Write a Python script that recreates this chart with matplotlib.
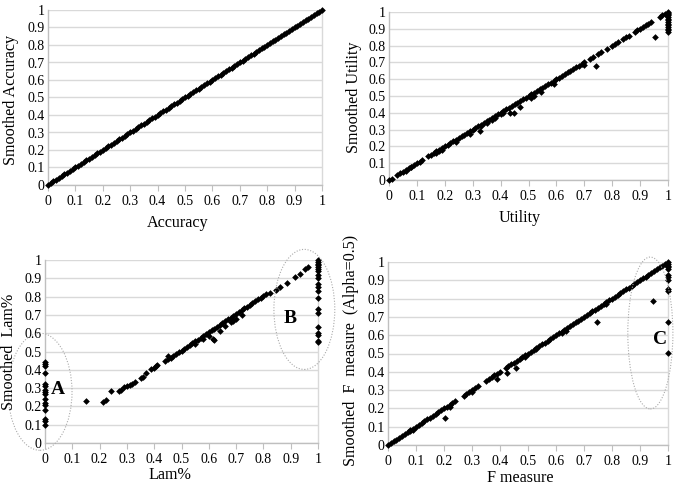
import matplotlib
matplotlib.use("Agg")
import matplotlib.pyplot as plt
from matplotlib.patches import Ellipse

plt.rcParams['font.family'] = ['Liberation Serif', 'DejaVu Serif']

# ---------------- Panel 1: Accuracy ----------------
acc_x = [0.00, 0.01, 0.02, 0.03, 0.04, 0.05, 0.06, 0.07, 0.08, 0.09,
         0.10, 0.11, 0.12, 0.13, 0.14, 0.15, 0.16, 0.17, 0.18, 0.19,
         0.20, 0.21, 0.22, 0.23, 0.24, 0.25, 0.26, 0.27, 0.28, 0.29,
         0.30, 0.31, 0.32, 0.33, 0.34, 0.35, 0.36, 0.37, 0.38, 0.39,
         0.40, 0.41, 0.42, 0.43, 0.44, 0.45, 0.46, 0.47, 0.48, 0.49,
         0.50, 0.51, 0.52, 0.53, 0.54, 0.55, 0.56, 0.57, 0.58, 0.59,
         0.60, 0.61, 0.62, 0.63, 0.64, 0.65, 0.66, 0.67, 0.68, 0.69,
         0.70, 0.71, 0.72, 0.73, 0.74, 0.75, 0.76, 0.77, 0.78, 0.79,
         0.80, 0.81, 0.82, 0.83, 0.84, 0.85, 0.86, 0.87, 0.88, 0.89,
         0.90, 0.91, 0.92, 0.93, 0.94, 0.95, 0.96, 0.97, 0.98, 0.99, 1.00]
acc_y = [0.00, 0.01, 0.02, 0.03, 0.04, 0.05, 0.06, 0.07, 0.08, 0.09,
         0.10, 0.11, 0.12, 0.13, 0.14, 0.15, 0.16, 0.17, 0.18, 0.19,
         0.20, 0.21, 0.22, 0.23, 0.24, 0.25, 0.26, 0.27, 0.28, 0.29,
         0.30, 0.31, 0.32, 0.33, 0.34, 0.35, 0.36, 0.37, 0.38, 0.39,
         0.40, 0.41, 0.42, 0.43, 0.44, 0.45, 0.46, 0.47, 0.48, 0.49,
         0.50, 0.51, 0.52, 0.53, 0.54, 0.55, 0.56, 0.57, 0.58, 0.59,
         0.60, 0.61, 0.62, 0.63, 0.64, 0.65, 0.66, 0.67, 0.68, 0.69,
         0.70, 0.71, 0.72, 0.73, 0.74, 0.75, 0.76, 0.77, 0.78, 0.79,
         0.80, 0.81, 0.82, 0.83, 0.84, 0.85, 0.86, 0.87, 0.88, 0.89,
         0.90, 0.91, 0.92, 0.93, 0.94, 0.95, 0.96, 0.97, 0.98, 0.99, 1.00]

# ---------------- Panel 2: Utility ----------------
util_x = [0.00, 0.01, 0.03, 0.04, 0.05, 0.06, 0.07, 0.08, 0.09, 0.10, 0.11, 0.12,
          0.14, 0.15, 0.16, 0.17, 0.18, 0.19, 0.20, 0.21, 0.22, 0.23, 0.24, 0.25,
          0.26, 0.27, 0.28, 0.29, 0.30, 0.31, 0.32, 0.33, 0.34, 0.35, 0.36, 0.37,
          0.38, 0.39, 0.40, 0.41, 0.42, 0.43, 0.44, 0.45, 0.46, 0.47, 0.48, 0.49,
          0.50, 0.51, 0.52, 0.53, 0.54, 0.55, 0.56, 0.57, 0.58, 0.59, 0.60, 0.61,
          0.62, 0.63, 0.64, 0.65, 0.66, 0.67, 0.68, 0.69, 0.70, 0.72, 0.73, 0.75,
          0.76, 0.78, 0.80, 0.81, 0.82, 0.84, 0.85, 0.86, 0.88, 0.89, 0.90, 0.91,
          0.92, 0.93, 0.94, 0.97, 0.98, 0.99,
          0.06, 0.08, 0.17, 0.18, 0.19, 0.33, 0.35, 0.37, 0.38, 0.40, 0.41, 0.51, 0.52,
          0.24, 0.29, 0.325, 0.434, 0.448, 0.47, 0.545, 0.59, 0.70, 0.742, 0.953,
          1.00, 1.00, 1.00, 1.00, 1.00, 1.00, 1.00, 1.00, 1.00, 1.00, 1.00, 1.00, 1.00, 1.00]
util_y = [0.00, 0.005, 0.03, 0.04, 0.05, 0.06, 0.07, 0.08, 0.09, 0.10, 0.11, 0.12,
          0.14, 0.15, 0.16, 0.17, 0.18, 0.19, 0.20, 0.21, 0.22, 0.23, 0.24, 0.25,
          0.26, 0.27, 0.28, 0.29, 0.30, 0.31, 0.32, 0.33, 0.34, 0.35, 0.36, 0.37,
          0.38, 0.39, 0.40, 0.41, 0.42, 0.43, 0.44, 0.45, 0.46, 0.47, 0.48, 0.49,
          0.50, 0.51, 0.52, 0.53, 0.54, 0.55, 0.56, 0.57, 0.58, 0.59, 0.60, 0.61,
          0.62, 0.63, 0.64, 0.65, 0.66, 0.67, 0.68, 0.69, 0.70, 0.72, 0.73, 0.75,
          0.76, 0.78, 0.80, 0.81, 0.82, 0.84, 0.85, 0.86, 0.88, 0.89, 0.90, 0.91,
          0.92, 0.93, 0.94, 0.97, 0.98, 0.99,
          0.055, 0.075, 0.16, 0.17, 0.18, 0.32, 0.34, 0.355, 0.37, 0.39, 0.40, 0.49, 0.50,
          0.225, 0.275, 0.29, 0.397, 0.397, 0.433, 0.525, 0.573, 0.685, 0.679, 0.851,
          1.00, 0.995, 0.99, 0.98, 0.97, 0.96, 0.95, 0.94, 0.93, 0.92, 0.91, 0.90, 0.89, 0.88]

# ---------------- Panel 3: Lam% ----------------
lam_x = [0.00, 0.00, 0.00, 0.00, 0.00, 0.00, 0.00, 0.00, 0.00, 0.00, 0.00, 0.00,
         0.00, 0.00, 0.00, 0.00,
         0.152, 0.211, 0.223, 0.24,
         0.27, 0.28, 0.29, 0.30, 0.31, 0.32, 0.33, 0.35, 0.36, 0.37, 0.39, 0.40,
         0.405, 0.41, 0.44, 0.45, 0.45,
         0.46, 0.47, 0.48, 0.49, 0.50, 0.51, 0.52, 0.53, 0.54, 0.55, 0.56, 0.57,
         0.58, 0.59, 0.60, 0.61, 0.62, 0.63, 0.64, 0.65, 0.66, 0.67, 0.68, 0.69,
         0.70, 0.71, 0.72, 0.73, 0.74, 0.75, 0.76, 0.77, 0.78, 0.79, 0.80, 0.81,
         0.55, 0.58, 0.60, 0.616, 0.62, 0.64, 0.66, 0.68, 0.69, 0.70, 0.72,
         0.824, 0.846, 0.861, 0.885, 0.916, 0.934, 0.952, 0.965,
         1.00, 1.00, 1.00, 1.00, 1.00, 1.00, 1.00, 1.00, 1.00, 1.00, 1.00, 1.00,
         1.00, 1.00, 1.00, 1.00, 1.00, 1.00, 1.00, 1.00]
lam_y = [0.44, 0.43, 0.42, 0.38, 0.32, 0.31, 0.29, 0.28, 0.27, 0.24, 0.22, 0.21,
         0.18, 0.13, 0.12, 0.10,
         0.232, 0.224, 0.234, 0.285,
         0.285, 0.292, 0.305, 0.31, 0.318, 0.325, 0.335, 0.355, 0.36, 0.385, 0.405, 0.41,
         0.42, 0.425, 0.45, 0.46, 0.475,
         0.465, 0.475, 0.485, 0.495, 0.505, 0.515, 0.525, 0.535, 0.545, 0.555, 0.565, 0.575,
         0.585, 0.595, 0.605, 0.615, 0.625, 0.635, 0.645, 0.655, 0.665, 0.675, 0.685, 0.695,
         0.705, 0.715, 0.725, 0.735, 0.745, 0.755, 0.765, 0.775, 0.785, 0.795, 0.805, 0.815,
         0.54, 0.57, 0.585, 0.571, 0.565, 0.61, 0.64, 0.66, 0.665, 0.68, 0.70,
         0.818, 0.836, 0.854, 0.873, 0.909, 0.923, 0.949, 0.963,
         1.00, 0.99, 0.98, 0.97, 0.96, 0.95, 0.94, 0.92, 0.90, 0.87, 0.85, 0.83,
         0.79, 0.73, 0.71, 0.635, 0.60, 0.59, 0.56, 0.55]

# ---------------- Panel 4: F measure ----------------
f_x = [0.00, 0.01, 0.02, 0.03, 0.04, 0.05, 0.06, 0.07, 0.08, 0.09, 0.10, 0.11,
       0.12, 0.13, 0.14, 0.15, 0.16, 0.17, 0.18, 0.19, 0.20, 0.21, 0.22, 0.23, 0.24,
       0.27, 0.28, 0.29, 0.30, 0.31, 0.32,
       0.35, 0.36, 0.37, 0.38, 0.39, 0.40,
       0.42, 0.43, 0.44, 0.45, 0.46, 0.47, 0.48, 0.49, 0.50, 0.51, 0.52, 0.53,
       0.54, 0.55, 0.56, 0.57, 0.58, 0.59, 0.60, 0.61, 0.62, 0.63, 0.64, 0.65,
       0.66, 0.67, 0.68, 0.69, 0.70, 0.71, 0.72, 0.73, 0.74, 0.75, 0.76, 0.77,
       0.78, 0.79, 0.80, 0.81, 0.82, 0.83, 0.84, 0.85, 0.86, 0.87, 0.88, 0.89,
       0.90, 0.91, 0.92, 0.93, 0.94, 0.95, 0.96, 0.97, 0.98, 0.99,
       0.08, 0.09, 0.22, 0.30, 0.49, 0.53, 0.62, 0.637, 0.78,
       0.202, 0.39, 0.424, 0.457, 0.745, 0.948,
       1.00, 1.00, 1.00, 1.00, 1.00, 1.00, 1.00, 1.00, 1.00, 1.00, 1.00, 1.00]
f_y = [0.00, 0.01, 0.02, 0.03, 0.04, 0.05, 0.06, 0.07, 0.08, 0.09, 0.10, 0.11,
       0.12, 0.13, 0.14, 0.15, 0.16, 0.17, 0.18, 0.19, 0.20, 0.21, 0.22, 0.23, 0.24,
       0.27, 0.28, 0.29, 0.30, 0.31, 0.32,
       0.35, 0.36, 0.37, 0.38, 0.39, 0.40,
       0.42, 0.43, 0.44, 0.45, 0.46, 0.47, 0.48, 0.49, 0.50, 0.51, 0.52, 0.53,
       0.54, 0.55, 0.56, 0.57, 0.58, 0.59, 0.60, 0.61, 0.62, 0.63, 0.64, 0.65,
       0.66, 0.67, 0.68, 0.69, 0.70, 0.71, 0.72, 0.73, 0.74, 0.75, 0.76, 0.77,
       0.78, 0.79, 0.80, 0.81, 0.82, 0.83, 0.84, 0.85, 0.86, 0.87, 0.88, 0.89,
       0.90, 0.91, 0.92, 0.93, 0.94, 0.95, 0.96, 0.97, 0.98, 0.99,
       0.075, 0.08, 0.21, 0.29, 0.48, 0.525, 0.61, 0.625, 0.77,
       0.145, 0.359, 0.395, 0.42, 0.672, 0.789,
       1.00, 0.99, 0.98, 0.97, 0.96, 0.93, 0.92, 0.90, 0.85, 0.84, 0.67, 0.505]

ticks = [0, 0.1, 0.2, 0.3, 0.4, 0.5, 0.6, 0.7, 0.8, 0.9, 1]
tick_labels = ['0', '0.1', '0.2', '0.3', '0.4', '0.5', '0.6', '0.7', '0.8', '0.9', '1']

W, H = 685, 486
fig = plt.figure(figsize=(W / 100, H / 100), dpi=100)

def px_axes(l, r, t, b):
    return fig.add_axes([l / W, 1 - b / H, (r - l) / W, (b - t) / H])

GRID = '#d9d9d9'
SPINE = '#bfbfbf'

def style(ax, xs, ys):
    ax.plot(xs, ys, linestyle='none', marker='D', markersize=3.4,
            color='black', markeredgewidth=0, clip_on=False, zorder=3)
    ax.set_xlim(0, 1)
    ax.set_ylim(0, 1)
    ax.set_xticks(ticks)
    ax.set_yticks(ticks)
    ax.set_xticklabels(tick_labels)
    ax.set_yticklabels(tick_labels)
    ax.tick_params(axis='x', direction='out', length=4, width=0.8, color=SPINE,
                   labelsize=10, pad=3)
    ax.tick_params(axis='y', length=0, labelsize=10, pad=2.5)
    ax.yaxis.grid(True, color=GRID, linewidth=1.0)
    ax.set_axisbelow(True)
    ax.spines['top'].set_visible(False)
    for s in ['left', 'bottom', 'right']:
        ax.spines[s].set_color(SPINE)
        ax.spines[s].set_linewidth(1.0)
    ax.spines['right'].set_color(GRID)

ax1 = px_axes(48, 322, 10, 185)
style(ax1, acc_x, acc_y)
ax2 = px_axes(389, 668, 12, 180)
style(ax2, util_x, util_y)
ax3 = px_axes(45, 318, 260, 443)
style(ax3, lam_x, lam_y)
ax4 = px_axes(388, 668, 262, 445)
style(ax4, f_x, f_y)

LFS = 11.6
def ftext(x, y, s, rot=0):
    fig.text(x / W, 1 - y / H, s, ha='center', va='center', rotation=rot, fontsize=LFS)

ftext(178, 223, 'Accuracy')
ftext(11, 100, 'Smoothed Accuracy', 90)
ftext(520, 218, 'Utility')
ftext(354, 97, 'Smoothed Utility', 90)
ftext(170, 475, 'Lam%')
ftext(9, 352, 'Smoothed  Lam%', 90)
ftext(520, 478, 'F measure')
ftext(351, 350, 'Smoothed  F  measure  (Alpha=0.5)', 90)

ell_kw = dict(fill=False, edgecolor='#aaaaaa', linestyle=(0, (1, 1.5)), linewidth=0.8, clip_on=False, zorder=4)
ax3.add_patch(Ellipse((-0.018, 0.28), 0.234, 0.64, **ell_kw))
ax3.add_patch(Ellipse((0.95, 0.73), 0.223, 0.656, **ell_kw))
ax4.add_patch(Ellipse((0.937, 0.612), 0.161, 0.83, **ell_kw))

ax3.text(0.048, 0.29, 'A', fontsize=14, fontweight='bold', ha='center', va='center')
ax3.text(0.897, 0.683, 'B', fontsize=14, fontweight='bold', ha='center', va='center')
ax4.text(0.971, 0.574, 'C', fontsize=14, fontweight='bold', ha='center', va='center')

fig.savefig('out.png', dpi=100)
